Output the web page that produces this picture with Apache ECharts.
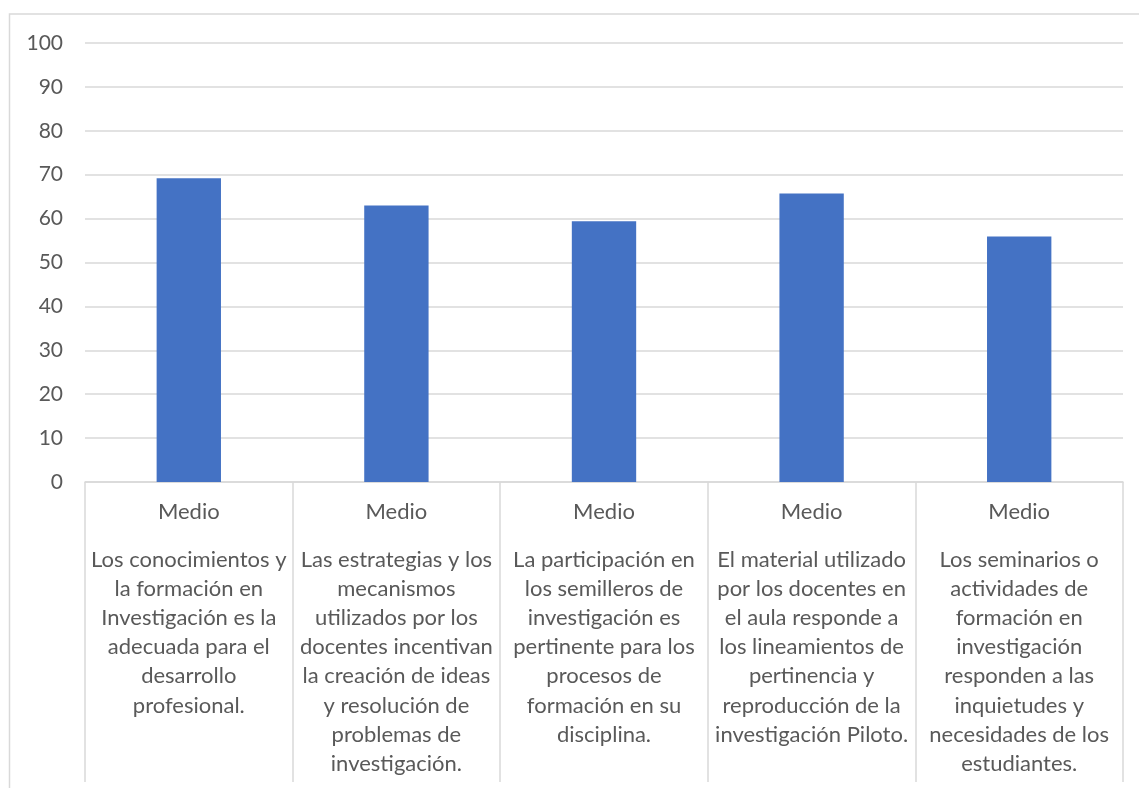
<!DOCTYPE html>
<html>
<head>
<meta charset="utf-8">
<script src="https://cdn.jsdelivr.net/npm/echarts@6/dist/echarts.min.js"></script>
<style>
  html, body { margin: 0; padding: 0; background: #fff; }
  #chart { width: 1139px; height: 788px; }
</style>
</head>
<body>
<div id="chart"></div>
<script>
const levels = ['Medio', 'Medio', 'Medio', 'Medio', 'Medio'];
const questions = [
  'Los conocimientos y\nla formación en\nInvestigación es la\nadecuada para el\ndesarrollo\nprofesional.',
  'Las estrategias y los\nmecanismos\nutilizados por los\ndocentes incentivan\nla creación de ideas\ny resolución de\nproblemas de\ninvestigación.',
  'La participación en\nlos semilleros de\ninvestigación es\npertinente para los\nprocesos de\nformación en su\ndisciplina.',
  'El material utilizado\npor los docentes en\nel aula responde a\nlos lineamientos de\npertinencia y\nreproducción de la\ninvestigación Piloto.',
  'Los seminarios o\nactividades de\nformación en\ninvestigación\nresponden a las\ninquietudes y\nnecesidades de los\nestudiantes.'
];
const values = [69.2, 63.0, 59.4, 65.7, 55.9];

const textColor = '#595959';
const lineColor = '#d9d9d9';
const font = 'Lato, Calibri, sans-serif';

var myChart = echarts.init(document.getElementById('chart'));
myChart.setOption({
  animation: false,
  textStyle: { fontFamily: font },
  grid: { left: 85, right: 16, top: 43, bottom: 306 },
  graphic: [
    {
      type: 'rect',
      shape: { x: 9.5, y: 14, width: 1300, height: 1000 },
      style: { fill: 'none', stroke: lineColor, lineWidth: 1.5 },
      silent: true
    }
  ],
  xAxis: [
    {
      type: 'category',
      data: levels,
      position: 'bottom',
      axisLine: { show: true, lineStyle: { color: lineColor, width: 1.5 } },
      axisTick: { show: true, interval: 0, length: 300, lineStyle: { color: lineColor, width: 1.5 } },
      axisLabel: { interval: 0, margin: 19, fontSize: 22, color: textColor, fontFamily: font }
    },
    {
      type: 'category',
      data: questions,
      position: 'bottom',
      axisLine: { show: false },
      axisTick: { show: false },
      axisLabel: { interval: 0, margin: 63, fontSize: 22, lineHeight: 29.2, color: textColor, fontFamily: font, align: 'center' }
    }
  ],
  yAxis: {
    type: 'value',
    min: 0,
    max: 100,
    interval: 10,
    axisLine: { show: false },
    axisTick: { show: false },
    axisLabel: { margin: 22, fontSize: 21, color: textColor, fontFamily: font },
    splitLine: { lineStyle: { color: lineColor, width: 1.5 } }
  },
  series: [
    {
      type: 'bar',
      xAxisIndex: 0,
      data: values,
      barWidth: '31%',
      itemStyle: { color: '#4472c4' }
    }
  ]
});
window.onresize = function () {
  myChart.resize();
};
</script>
</body>
</html>
